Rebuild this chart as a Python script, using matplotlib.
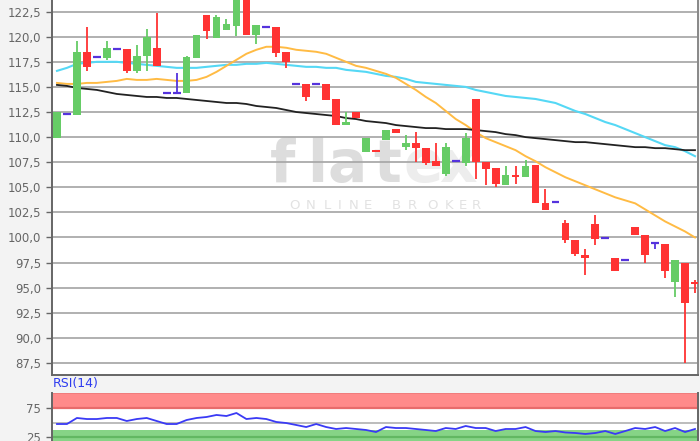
import matplotlib
matplotlib.use("Agg")
import matplotlib.pyplot as plt
import numpy as np

# ---- data ----
opens = [109.9, 112.3, 112.2, 118.5, 118.0, 117.9, 118.8, 118.8, 116.6, 118.1,
         118.9, 114.4, 114.4, 114.4, 117.9, 122.2, 119.9, 120.7, 121.1, 124.5,
         120.2, 121.0, 121.0, 118.5, 115.3, 115.3, 115.3, 115.3, 113.8, 111.2,
         112.5, 108.5, 108.7, 109.7, 110.8, 109.0, 109.4, 108.9, 107.6, 106.3,
         107.6, 107.4, 113.8, 107.5, 106.9, 105.2, 106.2, 106.0, 107.2, 103.4,
         103.5, 101.4, 99.7, 98.3, 101.3, 99.9, 98.0, 97.8, 101.0, 100.2,
         99.5, 99.4, 95.6, 97.5, 95.6]
highs = [112.5, 112.3, 119.6, 121.0, 118.0, 119.6, 118.8, 118.8, 119.2, 120.8,
         122.4, 114.4, 116.4, 118.1, 120.2, 122.2, 122.2, 121.8, 125.0, 125.0,
         121.2, 121.0, 121.0, 118.5, 115.3, 115.3, 115.3, 115.3, 113.8, 112.5,
         112.5, 109.9, 108.7, 110.7, 110.8, 110.2, 110.5, 108.9, 109.4, 109.4,
         107.6, 110.4, 113.8, 107.5, 106.9, 107.1, 107.1, 107.7, 107.2, 104.8,
         103.5, 101.7, 99.7, 98.9, 102.2, 99.9, 98.0, 97.8, 101.0, 100.2,
         99.5, 99.4, 97.8, 97.5, 95.8]
lows = [109.9, 112.3, 112.2, 116.6, 118.0, 117.7, 118.8, 116.4, 116.4, 116.6,
        117.1, 114.4, 114.4, 114.4, 117.9, 119.8, 119.9, 120.7, 120.1, 120.2,
        119.3, 121.0, 118.0, 116.9, 115.3, 113.6, 115.3, 113.7, 111.2, 111.2,
        111.9, 108.5, 108.5, 109.7, 110.4, 108.7, 107.5, 107.2, 107.1, 106.1,
        107.6, 107.1, 105.8, 105.2, 105.0, 105.2, 105.3, 106.0, 103.4, 102.7,
        103.5, 99.5, 98.2, 96.3, 99.3, 99.9, 96.7, 97.8, 100.2, 97.5,
        98.9, 96.0, 94.1, 87.5, 94.5]
closes = [112.5, 112.3, 118.5, 117.0, 118.0, 118.9, 118.8, 116.6, 118.1, 120.0,
          117.1, 114.4, 114.4, 118.0, 120.2, 120.6, 122.0, 121.3, 124.5, 120.2,
          121.2, 121.0, 118.4, 117.5, 115.3, 114.0, 115.3, 113.7, 111.2, 111.5,
          111.9, 109.9, 108.5, 110.7, 110.4, 109.4, 108.9, 107.4, 107.1, 109.0,
          107.6, 109.9, 107.5, 106.8, 105.3, 106.2, 106.0, 107.1, 103.4, 102.7,
          103.5, 99.7, 98.4, 98.0, 99.8, 99.9, 96.7, 97.8, 100.2, 98.3,
          99.5, 96.7, 97.8, 93.5, 95.4]

ma_orange = [115.4, 115.3, 115.3, 115.4, 115.4, 115.5, 115.6, 115.8, 115.7, 115.7,
             115.8, 115.7, 115.6, 115.6, 115.7, 116.0, 116.5, 117.1, 117.7, 118.3,
             118.7, 119.0, 119.0, 118.9, 118.7, 118.6, 118.5, 118.3, 117.9, 117.5,
             117.1, 116.9, 116.6, 116.3, 115.9, 115.3, 114.7, 114.0, 113.4, 112.6,
             111.8, 111.2, 110.5, 109.9, 109.5, 109.1, 108.7, 108.1, 107.6, 107.0,
             106.5, 106.0, 105.6, 105.2, 104.8, 104.4, 104.0, 103.7, 103.4, 102.8,
             102.2, 101.6, 101.1, 100.6, 100.0]
ma_cyan = [116.6, 116.9, 117.3, 117.4, 117.5, 117.5, 117.5, 117.4, 117.3, 117.2,
           117.1, 117.0, 116.9, 116.9, 116.9, 117.0, 117.1, 117.2, 117.2, 117.3,
           117.3, 117.4, 117.3, 117.2, 117.1, 117.0, 117.0, 116.9, 116.9, 116.7,
           116.6, 116.5, 116.3, 116.1, 116.0, 115.8, 115.5, 115.4, 115.3, 115.2,
           115.1, 115.0, 114.7, 114.5, 114.3, 114.1, 114.0, 113.9, 113.8, 113.6,
           113.4, 113.0, 112.6, 112.3, 111.9, 111.5, 111.2, 110.8, 110.4, 110.0,
           109.6, 109.2, 109.0, 108.6, 108.1]
ma_black = [115.2, 115.1, 114.9, 114.8, 114.7, 114.5, 114.3, 114.2, 114.1, 114.0,
            114.0, 113.9, 113.9, 113.8, 113.7, 113.6, 113.5, 113.4, 113.4, 113.3,
            113.1, 113.0, 112.9, 112.7, 112.5, 112.4, 112.3, 112.2, 112.1, 111.9,
            111.8, 111.6, 111.5, 111.4, 111.2, 111.1, 111.0, 110.9, 110.9, 110.8,
            110.8, 110.8, 110.7, 110.6, 110.5, 110.3, 110.2, 110.0, 109.9, 109.8,
            109.7, 109.6, 109.5, 109.5, 109.4, 109.3, 109.2, 109.1, 109.0, 109.0,
            108.9, 108.9, 108.8, 108.7, 108.7]
rsi = [47.4, 47.4, 57.8, 56.0, 56.0, 57.8, 57.8, 52.6, 56.0, 57.8,
       52.6, 47.4, 47.4, 54.3, 57.8, 59.5, 63.0, 61.2, 66.4, 56.0,
       57.8, 56.0, 50.9, 49.1, 45.7, 42.2, 47.4, 42.2, 38.8, 40.5,
       38.8, 37.1, 33.6, 42.2, 40.5, 40.5, 38.8, 37.1, 35.3, 40.5,
       38.8, 44.0, 40.5, 40.5, 35.3, 38.8, 38.8, 42.2, 35.3, 33.6,
       35.3, 32.8, 31.9, 30.2, 31.9, 35.3, 30.2, 35.3, 40.5, 38.8,
       42.2, 35.3, 40.5, 33.6, 38.8]

price_ticks = [87.5, 90.0, 92.5, 95.0, 97.5, 100.0, 102.5, 105.0, 107.5, 110.0,
               112.5, 115.0, 117.5, 120.0, 122.5]
price_labels = ["87,5", "90,0", "92,5", "95,0", "97,5", "100,0", "102,5", "105,0",
                "107,5", "110,0", "112,5", "115,0", "117,5", "120,0", "122,5"]
rsi_ticks = [25, 75]
rsi_labels = ["25", "75"]

# ---- style ----
GREEN = "#66cc66"
RED = "#ff3333"
DOJI = "#5533dd"
GRID = "#aaaaaa"
SPINE = "#666666"
TXT = "#666666"

fig = plt.figure(figsize=(7.0, 4.41), dpi=100, facecolor="#f3f3f3")
W, H = 700.0, 441.0
ax = fig.add_axes([52 / W, 1 - 375 / H, 646 / W, 375 / H])
ax2 = fig.add_axes([52 / W, 0, 646 / W, 48 / H])

n = len(opens)
x = np.arange(n)
xlim = (-0.5, 64.3)

# main panel
ax.set_facecolor("white")
ax.set_xlim(*xlim)
ax.set_ylim(86.3, 123.66)
for t in price_ticks:
    ax.axhline(t, color=GRID, lw=1.3, zorder=1)

# watermark (inside the main axes, below grid and candles)
wm_letters = ["f", "l", "a", "t", "e", "x"]
wm_px = [283, 317, 347, 387, 423, 458]
wm_col = ["#dddddd", "#dddddd", "#dddddd", "#dddddd", "#ededed", "#ededed"]
for ch, px, c in zip(wm_letters, wm_px, wm_col):
    ax.text(px / W, 1 - 182 / H, ch, fontsize=42, color=c, ha="center",
            va="baseline", family="DejaVu Sans", fontweight="bold",
            transform=fig.transFigure, zorder=0.6)
sub_letters = list("ONLINE BROKER")
sub_px = [295, 311, 327, 340, 354, 368, 382, 396, 412, 432, 449, 463, 476]
for ch, px in zip(sub_letters, sub_px):
    ax.text(px / W, 1 - 206 / H, ch, fontsize=9.5, color="#e2e2e2", ha="center",
            va="center", family="DejaVu Sans", transform=fig.transFigure,
            zorder=0.6)

# MAs
ax.plot(x, ma_cyan, color="#55d8f5", lw=1.5, zorder=2)
ax.plot(x, ma_orange, color="#ffbb44", lw=1.4, zorder=2)
ax.plot(x, ma_black, color="#222222", lw=1.3, zorder=2)

# candles
bw = 0.78
for i in range(n):
    o, h, l, c = opens[i], highs[i], lows[i], closes[i]
    if abs(c - o) < 1e-9:
        col = DOJI
        ax.vlines(i, l, h, color=col, lw=1.3, zorder=3)
        ax.hlines(o, i - bw / 2, i + bw / 2, color=col, lw=1.6, zorder=3)
    else:
        col = GREEN if c > o else RED
        ax.vlines(i, l, h, color=col, lw=1.3, zorder=3)
        ax.bar(i, abs(c - o), bottom=min(o, c), width=bw, color=col,
               edgecolor="none", zorder=4)

ax.set_yticks(price_ticks)
ax.set_yticklabels(price_labels)
ax.set_xticks([])
ax.tick_params(axis="y", length=4, width=1, color=SPINE, labelcolor=TXT,
               labelsize=8.5, pad=4)
ax.spines["top"].set_visible(False)
for s in ["left", "bottom", "right"]:
    ax.spines[s].set_color(SPINE)
    ax.spines[s].set_linewidth(1.4)
ax.spines["right"].set_color("#888888")

# RSI panel
ax2.set_facecolor("white")
ax2.set_xlim(*xlim)
ax2.set_ylim(18.1, 100.9)
ax2.axhspan(75, 100.9, color="#ff8a8a", lw=0, zorder=1)
ax2.axhline(75, color="#e86b6b", lw=1.6, zorder=1.5)
ax2.axhline(100.2, color="#ee7a7a", lw=1.2, zorder=1.5)
ax2.axhspan(18.1, 37.0, color="#86d486", lw=0, zorder=1)
ax2.axhline(25, color="#62b862", lw=1.6, zorder=1.5)
ax2.axhline(50, color="#b0b0b0", lw=1.2, zorder=1.5)
ax2.plot(x, rsi, color="#3a3af5", lw=1.3, zorder=3)
ax2.set_yticks(rsi_ticks)
ax2.set_yticklabels(rsi_labels)
ax2.set_xticks([])
ax2.tick_params(axis="y", length=4, width=1, color=SPINE, labelcolor=TXT,
                labelsize=8.5, pad=4)
ax2.spines["top"].set_visible(False)
ax2.spines["bottom"].set_visible(False)
for s in ["left", "right"]:
    ax2.spines[s].set_color(SPINE)
    ax2.spines[s].set_linewidth(1.4)
fig.text(53 / W, 1 - 384 / H, "RSI(14)", color="#2e3cf0", fontsize=9,
         ha="left", va="center", family="DejaVu Sans")

fig.savefig("out.png", dpi=100, facecolor=fig.get_facecolor())
